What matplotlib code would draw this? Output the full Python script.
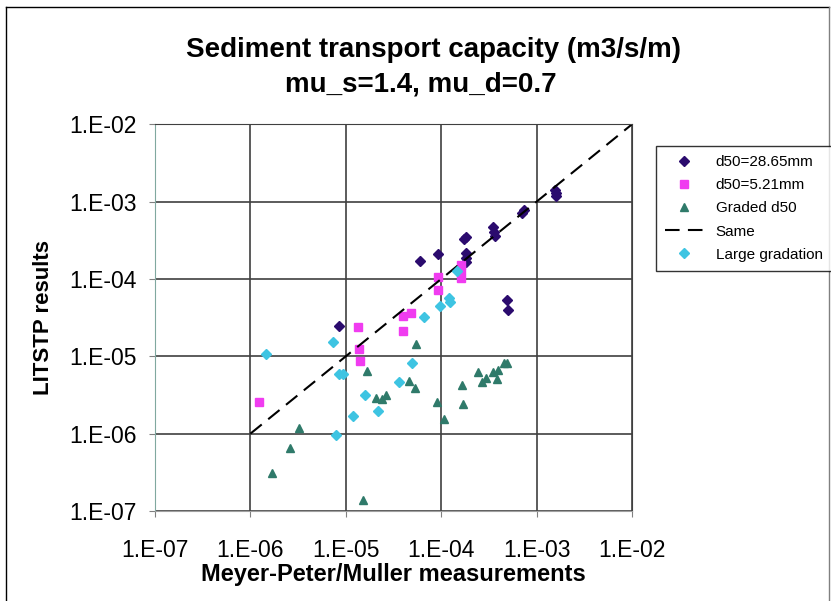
import numpy as np
import matplotlib
matplotlib.use('Agg')
import matplotlib.pyplot as plt
from matplotlib.ticker import FixedLocator, FuncFormatter, NullLocator
from matplotlib.lines import Line2D

plt.rcParams['font.family'] = ['Liberation Sans', 'DejaVu Sans']

# d50=28.65mm
x_d50_28 = [8.5e-6, 6.0e-5, 9.2e-5, 1.75e-4, 1.8e-4, 1.8e-4, 1.8e-4, 1.8e-4,
            3.45e-4, 3.6e-4, 3.7e-4, 7.0e-4, 7.4e-4, 1.55e-3, 1.58e-3, 1.6e-3,
            4.9e-4, 5.0e-4]
y_d50_28 = [2.45e-5, 1.7e-4, 2.1e-4, 3.3e-4, 3.5e-4, 2.15e-4, 1.87e-4, 1.68e-4,
            4.75e-4, 4.1e-4, 3.55e-4, 7.2e-4, 7.8e-4, 1.42e-3, 1.3e-3, 1.17e-3,
            5.4e-5, 4.0e-5]

# d50=5.21mm
x_d50_5 = [1.23e-6, 1.35e-5, 1.37e-5, 1.4e-5, 4.0e-5, 4.8e-5, 4.0e-5,
           9.3e-5, 9.3e-5, 1.6e-4, 1.6e-4, 1.6e-4]
y_d50_5 = [2.58e-6, 2.36e-5, 1.24e-5, 8.75e-6, 3.33e-5, 3.68e-5, 2.15e-5,
           1.05e-4, 7.1e-5, 1.52e-4, 1.31e-4, 1.02e-4]

# Graded d50
x_graded = [1.7e-6, 2.6e-6, 3.2e-6, 1.52e-5, 1.65e-5, 2.05e-5, 2.38e-5, 2.62e-5,
            5.45e-5, 4.64e-5, 5.3e-5, 8.97e-5, 1.07e-4, 1.66e-4, 1.7e-4, 2.45e-4,
            2.65e-4, 2.92e-4, 3.5e-4, 3.8e-4, 3.97e-4, 4.5e-4, 4.9e-4]
y_graded = [3.1e-7, 6.5e-7, 1.2e-6, 1.4e-7, 6.4e-6, 2.9e-6, 2.83e-6, 3.18e-6,
            1.45e-5, 4.8e-6, 3.9e-6, 2.53e-6, 1.55e-6, 4.3e-6, 2.4e-6, 6.2e-6,
            4.6e-6, 5.2e-6, 6.2e-6, 5.1e-6, 6.7e-6, 8.3e-6, 8.2e-6]

# Large gradation
x_large = [1.45e-6, 7.4e-6, 8.5e-6, 9.3e-6, 7.8e-6, 1.2e-5, 1.6e-5, 2.2e-5,
           3.64e-5, 4.98e-5, 6.65e-5, 9.7e-5, 1.22e-4, 1.24e-4, 1.45e-4]
y_large = [1.07e-5, 1.52e-5, 5.9e-6, 5.9e-6, 9.5e-7, 1.67e-6, 3.18e-6, 1.94e-6,
           4.6e-6, 8.2e-6, 3.2e-5, 4.5e-5, 5.65e-5, 5.1e-5, 1.25e-4]

# linea 1:1
x_same = [1e-6, 1e-2]
y_same = [1e-6, 1e-2]

ticks = [1e-7, 1e-6, 1e-5, 1e-4, 1e-3, 1e-2]

fig = plt.figure(figsize=(8.31, 6.01), dpi=100)
ax = fig.add_axes([155/831, 1-511/601, (632-155)/831, (511-124.3)/601])

ax.plot(x_d50_28, y_d50_28, 'D', color='#2b0b6e', ms=5, ls='none', label='d50=28.65mm')
ax.plot(x_d50_5, y_d50_5, 's', color='#f03cf0', ms=6, ls='none', label='d50=5.21mm')
ax.plot(x_graded, y_graded, '^', color='#2f7a6a', ms=6, ls='none', label='Graded d50')
ax.plot(x_same, y_same, color='black', lw=1.5, dashes=(7, 4), label='Same')
ax.plot(x_large, y_large, 'D', color='#3ec4e2', ms=5.5, ls='none', label='Large gradation')

ax.set_xscale('log')
ax.set_yscale('log')
ax.set_xlim(1e-7, 1e-2)
ax.set_ylim(1e-7, 1e-2)

fmt = FuncFormatter(lambda v, p: "1.E%+03d" % int(round(np.log10(v))))
for a in (ax.xaxis, ax.yaxis):
    a.set_major_locator(FixedLocator(ticks))
    a.set_minor_locator(NullLocator())
    a.set_major_formatter(fmt)
ax.tick_params(labelsize=16.5, length=4, color='#808080')
ax.tick_params(axis='x', pad=16)
ax.tick_params(axis='y', pad=9)
ax.grid(True, color='#404040', lw=1.2)
ax.set_axisbelow(True)

ax.spines['left'].set_color('#80a8a0')
ax.spines['bottom'].set_color('#a0a0a0')
ax.spines['top'].set_color('#404040')
ax.spines['right'].set_color('#404040')

ax.set_xlabel('Meyer-Peter/Muller measurements', fontsize=17, fontweight='bold', labelpad=1)
ax.set_ylabel('LITSTP results', fontsize=16, fontweight='bold', labelpad=11)
fig.text(433/831, 1-50/601, 'Sediment transport capacity (m3/s/m)', fontsize=20,
         fontweight='bold', ha='center', va='center')
fig.text(421/831, 1-84/601, 'mu_s=1.4, mu_d=0.7', fontsize=20,
         fontweight='bold', ha='center', va='center')

leg = fig.legend(loc='upper left', bbox_to_anchor=(656/831, 1-146/601),
                 borderaxespad=0, fontsize=11, frameon=True, fancybox=False,
                 handlelength=2.5, labelspacing=0.6, borderpad=0.6)
leg.get_frame().set_edgecolor('black')
leg.get_frame().set_linewidth(1)

# marco exterior
fig.add_artist(Line2D([6/831, 6/831], [0, 1-7/601], color='black', lw=1, transform=fig.transFigure))
fig.add_artist(Line2D([6/831, 829/831], [1-7/601, 1-7/601], color='black', lw=1, transform=fig.transFigure))
fig.add_artist(Line2D([829/831, 829/831], [0, 1-7/601], color='#808080', lw=1, transform=fig.transFigure))

fig.savefig('out.png', dpi=100)
